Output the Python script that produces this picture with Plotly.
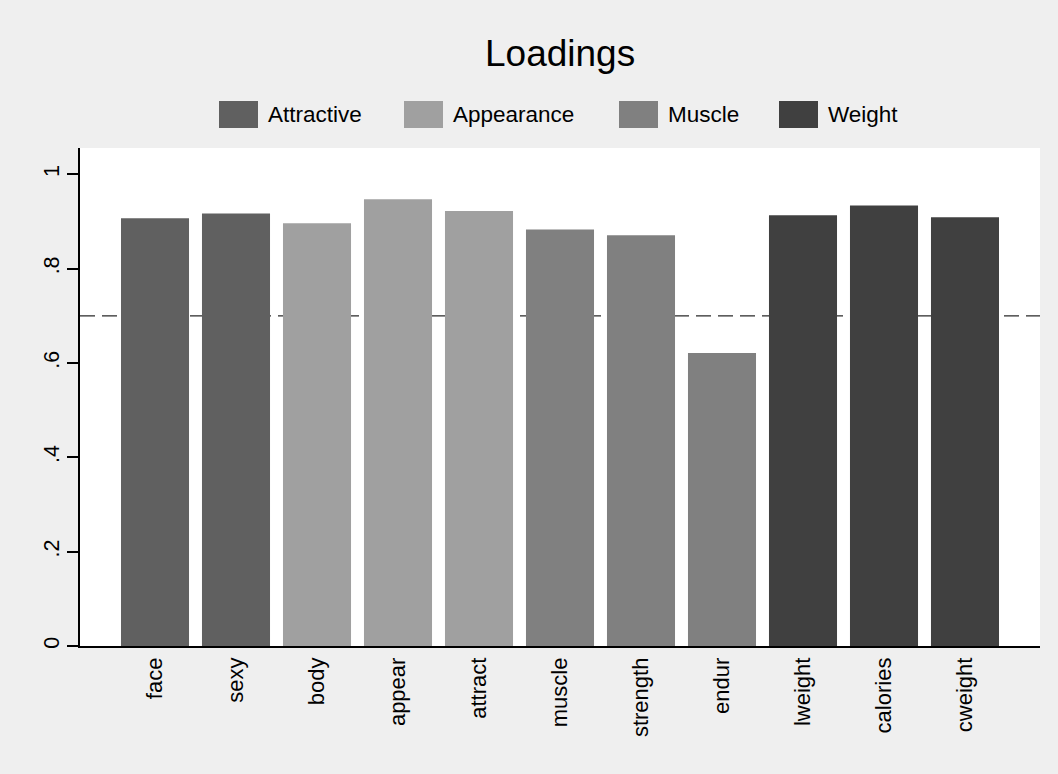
import plotly.graph_objects as go

# ---- data ----
categories = ["face", "sexy", "body", "appear", "attract", "muscle",
              "strength", "endur", "lweight", "calories", "cweight"]
loadings = [0.907, 0.917, 0.896, 0.947, 0.922, 0.883, 0.871, 0.621, 0.913, 0.934, 0.909]
factor_of = ["Attractive", "Attractive", "Appearance", "Appearance", "Appearance",
             "Muscle", "Muscle", "Muscle", "Weight", "Weight", "Weight"]
factor_names = ["Attractive", "Appearance", "Muscle", "Weight"]
threshold = 0.7
ytick_vals = [0, 0.2, 0.4, 0.6, 0.8, 1.0]
ytick_text = ["0", ".2", ".4", ".6", ".8", "1"]

# ---- style ----
factor_colors = {"Attractive": "#606060", "Appearance": "#a0a0a0",
                 "Muscle": "#808080", "Weight": "#404040"}
FONT = "Liberation Sans, Arial, Helvetica, sans-serif"
W, H = 1058, 774
L, R, T, B = 80, 18, 148, 128
PW, PH = W - L - R, H - T - B


def px(x):
    return (x - L) / PW


def py(y):
    return (H - B - y) / PH


fig = go.Figure()
for name in factor_names:
    xs = [c for c, f in zip(categories, factor_of) if f == name]
    ys = [v for v, f in zip(loadings, factor_of) if f == name]
    fig.add_trace(go.Bar(x=xs, y=ys, name=name, width=0.84,
                         marker=dict(color=factor_colors[name], line=dict(width=0)),
                         showlegend=False))

shapes = []
# threshold line
shapes.append(dict(type="line", xref="paper", yref="y", layer="below",
                   x0=0, x1=1, y0=threshold, y1=threshold,
                   line=dict(color="#2a2a2a", width=1.3, dash="15px,7px")))

annotations = [dict(text="Loadings", xref="paper", yref="paper",
                    x=0.5, y=py(53.5), xanchor="center", yanchor="middle",
                    showarrow=False, font=dict(family=FONT, size=37, color="black"))]

# legend (manual, Stata style)
legend_box_x = [219, 404, 619, 779]
for name, bx in zip(factor_names, legend_box_x):
    shapes.append(dict(type="rect", xref="paper", yref="paper",
                       x0=px(bx), x1=px(bx + 39), y0=py(128), y1=py(101),
                       fillcolor=factor_colors[name], line=dict(width=0)))
    annotations.append(dict(text=name, xref="paper", yref="paper",
                            x=px(bx + 47), y=py(114.5), xanchor="left", yanchor="middle",
                            showarrow=False,
                            font=dict(family=FONT, size=22.5, color="black")))

fig.update_layout(
    width=W, height=H,
    margin=dict(l=L, r=R, t=T, b=B, pad=0),
    paper_bgcolor="#efefef", plot_bgcolor="white",
    barmode="overlay",
    font=dict(family=FONT, color="black"),
    shapes=shapes, annotations=annotations,
    showlegend=False,
)
fig.update_xaxes(type="category", categoryorder="array", categoryarray=categories,
                 range=[-0.926, 10.926], showgrid=False, zeroline=False,
                 showline=True, linecolor="black", linewidth=1.6,
                 ticks="outside", ticklen=1, tickcolor="rgba(0,0,0,0)",
                 tickangle=-90, tickfont=dict(family=FONT, size=22, color="black"))
fig.update_yaxes(range=[0, 1.0557], showgrid=False, zeroline=False,
                 showline=True, linecolor="black", linewidth=1.6,
                 ticks="outside", ticklen=11, tickwidth=1.6, tickcolor="black",
                 tickvals=ytick_vals, ticktext=ytick_text, tickangle=-90,
                 tickfont=dict(family=FONT, size=21.5, color="black"))

fig.write_html("out.html")
